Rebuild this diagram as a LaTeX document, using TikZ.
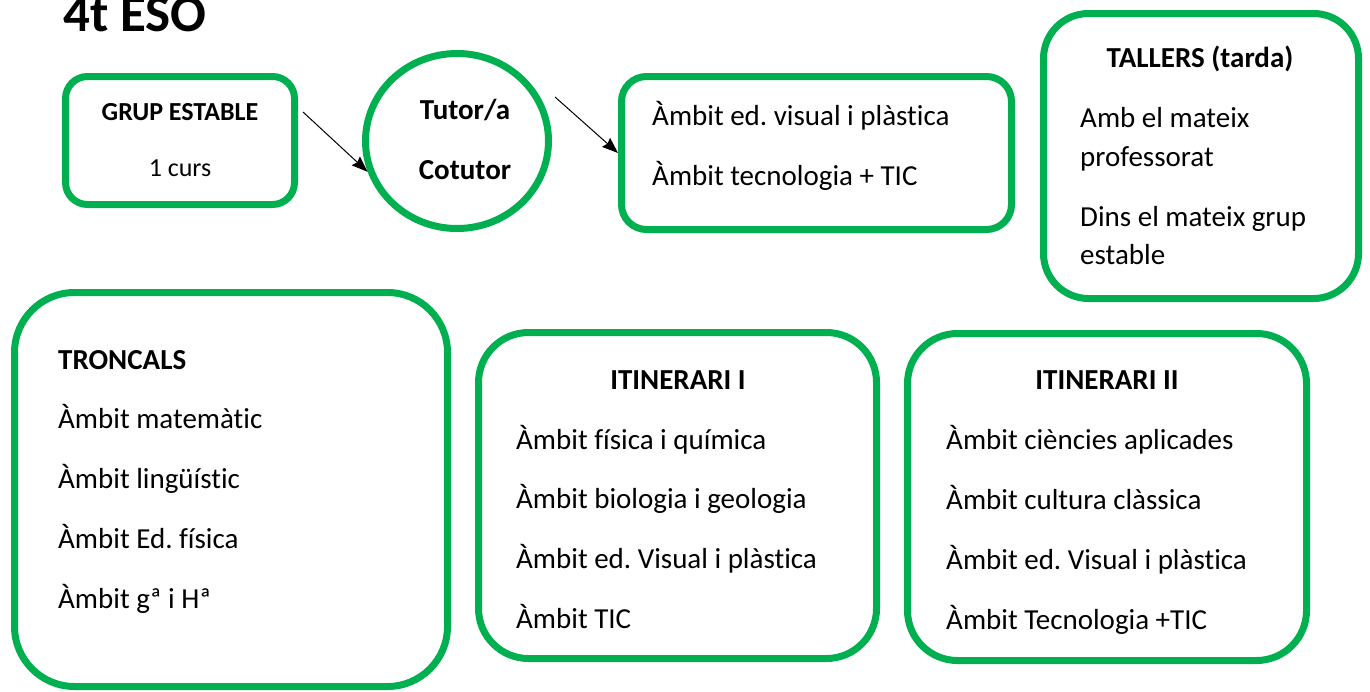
\documentclass[tikz,border=0pt]{standalone}
\usepackage{fontspec}
\setmainfont{Carlito}[Ligatures={NoCommon},RawFeature={-liga;-dlig}]
\usetikzlibrary{shapes.geometric,arrows.meta}
\definecolor{ogreen}{HTML}{00B050}
\frenchspacing
\begin{document}
\begin{tikzpicture}[x=1pt,y=-1pt,
  gbox/.style={draw=ogreen,line width=7pt,rounded corners=#1,inner sep=0pt,fill=white},
  gbox/.default=25pt,
  txt/.style={inner sep=0pt,anchor=base west,font=\fontsize{29}{35}\selectfont},
  ttl/.style={inner sep=0pt,anchor=base,font=\fontsize{29}{35}\selectfont\bfseries},
  sml/.style={inner sep=0pt,anchor=base,font=\fontsize{26}{31}\selectfont},
  conn/.style={line width=1pt,-{Stealth[length=16pt,width=12pt,inset=2pt]}}]
\useasboundingbox (0,0) rectangle (1370,691);
% title
\node[inner sep=0pt,anchor=base west,font=\fontsize{53}{60}\selectfont\bfseries] (title) at (63,31) {4t ESO};
% boxes
\node[gbox=22pt,minimum width=229pt,minimum height=128pt] (grp) at (180,140.5) {};
\node[draw=ogreen,line width=7pt,ellipse,inner sep=0pt,minimum width=183pt,minimum height=175pt,fill=white] (tut) at (457,141) {};
\node[gbox=25pt,minimum width=390pt,minimum height=153pt] (amb) at (816.5,153) {};
\node[gbox=45pt,minimum width=315pt,minimum height=285pt] (tal) at (1201,156) {};
\node[gbox=60pt,minimum width=433pt,minimum height=394pt] (tro) at (231,489.5) {};
\node[gbox=50pt,minimum width=398pt,minimum height=326pt] (it1) at (677.5,495.5) {};
\node[gbox=50pt,minimum width=399pt,minimum height=327pt] (it2) at (1107,497) {};
% GRUP ESTABLE
\node[sml,font=\fontsize{26}{31}\selectfont\bfseries] (g1) at (180,120) {GRUP ESTABLE};
\node[sml] (g2) at (180,176) {1 curs};
% tutor
\node[ttl] (c1) at (465,119) {Tutor/a};
\node[ttl] (c2) at (465,179) {Cotutor};
% ambits
\node[txt] (m1) at (652,125) {Àmbit ed. visual i plàstica};
\node[txt] (m2) at (652,185) {Àmbit tecnologia + TIC};
% tallers
\node[ttl] (l0) at (1200,67) {TALLERS (tarda)};
\node[txt] (l1) at (1080,127) {Amb el mateix};
\node[txt] (l2) at (1080,166) {professorat};
\node[txt] (l3) at (1080,226) {Dins el mateix grup};
\node[txt] (l4) at (1080,264) {estable};
% troncals
\node[txt,font=\fontsize{29}{35}\selectfont\bfseries] (r0) at (58,369) {TRONCALS};
\node[txt] (r1) at (58,428) {Àmbit matemàtic};
\node[txt] (r2) at (58,488) {Àmbit lingüístic};
\node[txt] (r3) at (58,548) {Àmbit Ed. física};
\node[txt] (r4) at (58,608) {Àmbit gª i Hª};
% itinerari I
\node[ttl] (i0) at (678,389) {ITINERARI I};
\node[txt] (i1) at (516,449) {Àmbit física i química};
\node[txt] (i2) at (516,508) {Àmbit biologia i geologia};
\node[txt] (i3) at (516,568) {Àmbit ed. Visual i plàstica};
\node[txt] (i4) at (516,628) {Àmbit TIC};
% itinerari II
\node[ttl] (j0) at (1107,389) {ITINERARI II};
\node[txt] (j1) at (946,449) {Àmbit ciències aplicades};
\node[txt] (j2) at (946,509) {Àmbit cultura clàssica};
\node[txt] (j3) at (946,569) {Àmbit ed. Visual i plàstica};
\node[txt] (j4) at (946,629) {Àmbit Tecnologia +TIC};
% connectors
\coordinate (a1) at (303,112);
\coordinate (a2) at (555,97);
\draw[conn] (a1) -- (tut.199);
\draw[conn] (a2) -- (amb.west);
\end{tikzpicture}
\end{document}
